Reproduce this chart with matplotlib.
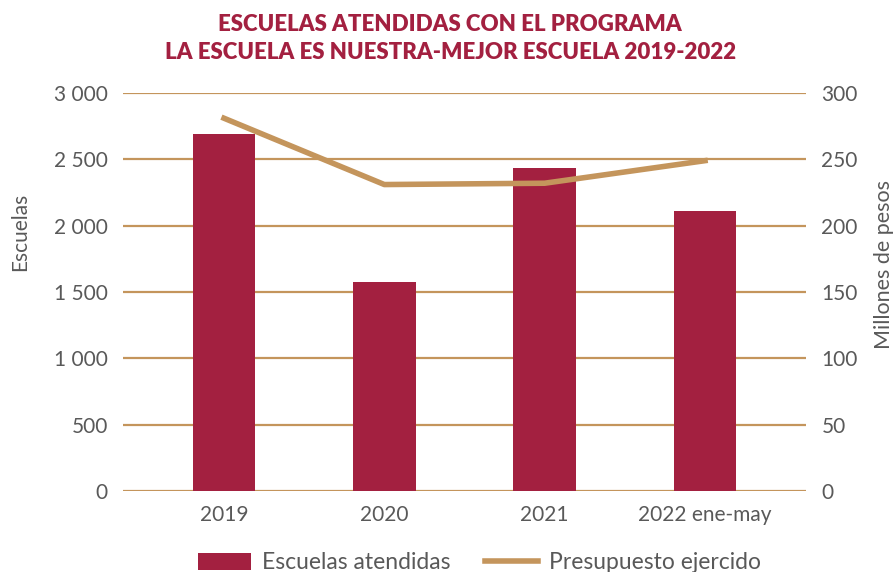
import matplotlib.pyplot as plt
import numpy as np

categories = ["2019", "2020", "2021", "2022 ene-may"]
escuelas = [2690, 1575, 2434, 2110]
presupuesto = [281, 231, 232, 249]

RED = "#A32040"
TAN = "#C4955C"
GRAY = "#595959"

plt.rcParams["font.family"] = ["Lato", "DejaVu Sans"]

fig = plt.figure(figsize=(8.95, 5.72), dpi=100)
ax = fig.add_axes([0.1374, 0.1416, 0.7632, 0.6958])
x = np.arange(len(categories))

ax.bar(x, escuelas, width=0.39, color=RED, label="Escuelas atendidas", zorder=3)
ax.set_ylim(0, 3000)
ax.set_yticks(np.arange(0, 3001, 500))
ax.set_yticklabels([f"{v:,}".replace(",", " ") for v in range(0, 3001, 500)])
ax.set_xlim(-0.63, 3.63)
ax.set_xticks(x)
ax.set_xticklabels(categories)
ax.grid(axis="y", color=TAN, linewidth=1.6, zorder=0)
ax.set_axisbelow(True)
for s in ax.spines.values():
    s.set_visible(False)
ax.tick_params(length=0, labelsize=15, colors=GRAY, pad=11)
ax.tick_params(axis="x", pad=10)
ax.set_ylabel("Escuelas", fontsize=15, color=GRAY)
ax.yaxis.set_label_coords(-0.136, 0.65)

ax2 = ax.twinx()
ax2.plot(x, presupuesto, color=TAN, linewidth=4, label="Presupuesto ejercido", zorder=4)
ax2.set_ylim(0, 300)
ax2.set_yticks(np.arange(0, 301, 50))
for s in ax2.spines.values():
    s.set_visible(False)
ax2.tick_params(length=0, labelsize=15, colors=GRAY, pad=11)
ax2.set_ylabel("Millones de pesos", fontsize=15.5, color=GRAY)
ax2.yaxis.set_label_coords(1.1, 0.57)

fig.text(0.503, 0.958, "ESCUELAS ATENDIDAS CON EL PROGRAMA", ha="center", va="center",
         fontsize=16, fontweight="heavy", color=RED)
fig.text(0.503, 0.909, "LA ESCUELA ES NUESTRA-MEJOR ESCUELA 2019-2022", ha="center", va="center",
         fontsize=16, fontweight="heavy", color=RED)

h1, l1 = ax.get_legend_handles_labels()
h2, l2 = ax2.get_legend_handles_labels()
fig.legend(h1 + h2, l1 + l2, loc="center", bbox_to_anchor=(0.536, 0.016), ncol=2, frameon=False,
           fontsize=16.5, labelcolor=GRAY, handlelength=2.3, handleheight=0.8, columnspacing=1.5,
           handletextpad=0.5)

fig.savefig("out.png", dpi=100)
